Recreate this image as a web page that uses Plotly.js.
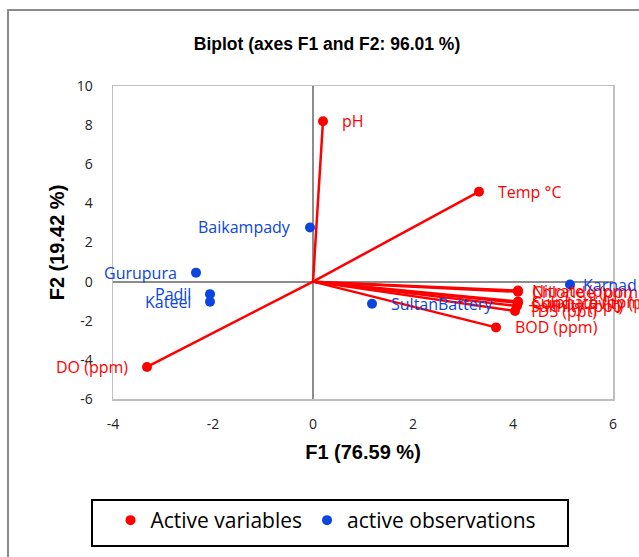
<!DOCTYPE html>
<html><head><meta charset="utf-8">
<script src="https://cdn.plot.ly/plotly-3.0.1.min.js"></script>
<style>html,body{margin:0;padding:0;background:#fff;}#chart{width:639px;height:557px;}</style>
</head><body><div id="chart"></div>
<script>
// Active variables (red)
const varNames = ["pH","Temp °C","DO (ppm)","BOD (ppm)","Nitrate (ppm)","Chloride (ppm)","Sulphate (ppm)","Conductivity (µS)","Salinity (ppt)","TDS (ppt)"];
const varF1 = [0.2, 3.32, -3.32, 3.66, 4.1, 4.1, 4.1, 4.1, 4.08, 4.04];
const varF2 = [8.2, 4.6, -4.36, -2.34, -0.46, -0.52, -1.02, -1.08, -1.25, -1.5];
const varSide = ["right","right","left","right","right","right","right","right","right","right"];
// Active observations (blue)
const obsNames = ["Baikampady","Gurupura","Padil","Kateel","SultanBattery","Karnad"];
const obsF1 = [-0.06, -2.34, -2.06, -2.06, 1.18, 5.14];
const obsF2 = [2.77, 0.46, -0.64, -1.03, -1.13, -0.15];
const obsSide = ["left","left","left","left","right","right"];
// Tick labels
const xTickVals = [-4, -2, 0, 2, 4, 6];
const xTickText = ["-4", "-2", "0", "2", "4", "6"];
const yTickVals = [-6, -4, -2, 0, 2, 4, 6, 8, 10];
const yTickText = ["-6", "-4", "-2", "0", "2", "4", "6", "8", "10"];

const RED = "#FF0000", BLUE = "#0A45E0";
const labFont = "Open Sans, Noto Sans, sans-serif";
const arial = "Liberation Sans, Arial, sans-serif";

// vectors from origin
const lx = [], ly = [];
varF1.forEach((v,i)=>{ lx.push(0, v, null); ly.push(0, varF2[i], null); });

const traces = [
  {x: lx, y: ly, mode: "lines", line:{color:RED, width:2.5}, showlegend:false, hoverinfo:"skip"},
  {x: varF1, y: varF2, mode:"markers", name:"Active variables", marker:{color:RED, size:10}},
  {x: obsF1, y: obsF2, mode:"markers", name:"active observations", marker:{color:BLUE, size:10}}
];

const annotations = [];
varNames.forEach((n,i)=>{
  annotations.push({x:varF1[i], y:varF2[i], xref:"x", yref:"y", text:n, showarrow:false,
    xanchor: varSide[i]==="right"?"left":"right", xshift: varSide[i]==="right"?(i>=4?12:17):-17,
    font:{family:labFont, size:16, color:RED}});
});
obsNames.forEach((n,i)=>{
  annotations.push({x:obsF1[i], y:obsF2[i], xref:"x", yref:"y", text:n, showarrow:false,
    xanchor: obsSide[i]==="right"?"left":"right", xshift: obsSide[i]==="right"?(i===5?11:17):-17,
    font:{family:labFont, size:16, color:BLUE}});
});

const tickAxis = (dir) => ({overlaying:"y", anchor:"free", position:0.4, range:[-6,10], tick0:0, dtick:2,
  ticks:dir, ticklen:6, tickwidth:1.5, tickcolor:"#8c8c8c", showticklabels:false, showline:false,
  showgrid:false, zeroline:false, fixedrange:true});

const px = (p) => (p-113)/500;      // pixel -> paper x
const py = (p) => (399-p)/313;      // pixel -> paper y

const layout = {
  width:639, height:557,
  margin:{l:113, r:26, t:86, b:158},
  paper_bgcolor:"#fff", plot_bgcolor:"#fff",
  title:{text:"<b>Biplot (axes F1 and F2: 96.01 %)</b>", x:327/639, xref:"container", xanchor:"center",
    y:1-44/557, yref:"container", yanchor:"middle",
    font:{family:arial, size:17.5, color:"#000"}},
  xaxis:{range:[-4,6], tickmode:"array", tickvals:xTickVals, ticktext:xTickText, showgrid:false,
    zeroline:true, zerolinecolor:"#8c8c8c", zerolinewidth:2,
    showline:true, linecolor:"#c0c0c0", linewidth:1.5, mirror:true, ticks:"", ticklabelstandoff:12,
    tickfont:{family:labFont, size:14, color:"#222"},
    title:{text:"<b>F1 (76.59 %)</b>", standoff:12, font:{family:arial, size:20, color:"#000"}}},
  yaxis:{range:[-6,10], tickmode:"array", tickvals:yTickVals, ticktext:yTickText, showgrid:false,
    zeroline:true, zerolinecolor:"#8c8c8c", zerolinewidth:2,
    showline:true, linecolor:"#c0c0c0", linewidth:1.5, mirror:true, ticks:"", ticklabelstandoff:16,
    tickfont:{family:labFont, size:14, color:"#222"},
    title:{text:"<b>F2 (19.42 %)</b>", standoff:6, font:{family:arial, size:20, color:"#000"}}},
  yaxis2: tickAxis("outside"),
  yaxis3: tickAxis("inside"),
  showlegend:true,
  legend:{orientation:"h", x:px(326), xanchor:"center", y:py(500), yanchor:"top",
    borderwidth:0, bgcolor:"rgba(0,0,0,0)",
    font:{family:labFont, size:21, color:"#000"}, itemwidth:30},
  annotations: annotations,
  shapes:[
    {type:"rect", xref:"paper", yref:"paper", x0:-0.21, x1:1.2, y0:-0.6, y1:py(10),
      line:{color:"#8c8c8c", width:2}, fillcolor:"rgba(0,0,0,0)", layer:"below"},
    {type:"rect", xref:"paper", yref:"paper", x0:px(92), x1:px(568), y0:py(546), y1:py(500),
      line:{color:"#000", width:2}, fillcolor:"rgba(0,0,0,0)", layer:"below"}
  ]
};

Plotly.newPlot("chart", traces, layout, {displayModeBar:false, staticPlot:true});
</script>
</body></html>
